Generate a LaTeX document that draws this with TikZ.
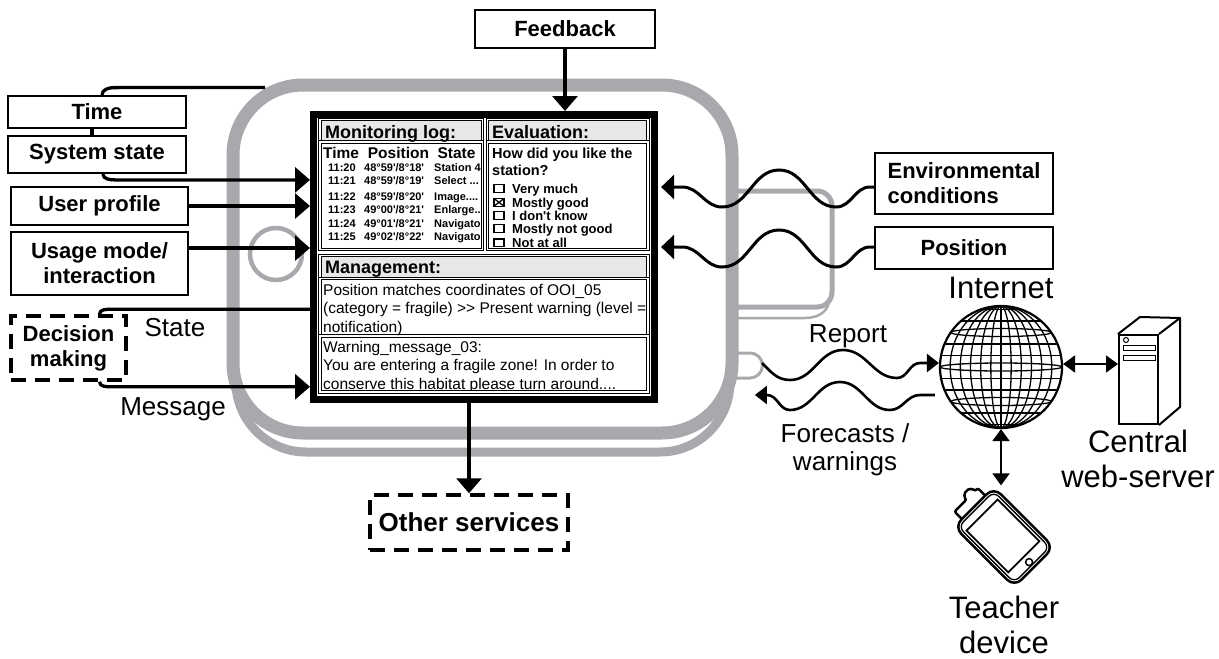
\documentclass[tikz,border=0pt]{standalone}
\usepackage{fontspec}
\setmainfont{Liberation Sans}[Ligatures=TeXOff]
\usetikzlibrary{arrows.meta}
\definecolor{rim}{RGB}{167,169,172}
\definecolor{hdr}{RGB}{230,231,232}
\newcommand{\sz}[2]{\fontsize{#1}{#2}\selectfont}

\begin{document}
\begin{tikzpicture}[x=1pt,y=1pt]

    \tikzset{
        boxstyle/.style={draw,line width=1.8pt,inner sep=0pt,align=center,font=\bfseries\sz{22}{25}},
        dashbox/.style={boxstyle,line width=3.5pt,dash pattern=on 15pt off 9pt},
        conn/.style={line width=3.3pt},
        arr/.style={conn,-{Triangle[length=15pt,width=25pt]}},
        wave/.style={line width=3pt,-{Triangle[length=13pt,width=24pt]}},
        thinwave/.style={line width=2.6pt,-{Triangle[length=12pt,width=18pt]}},
        twoway/.style={line width=2pt,{Triangle[length=12pt,width=17pt]}-{Triangle[length=12pt,width=17pt]}},
        lbl/.style={inner sep=0pt,align=center,font=\sz{26}{28}},
        biglbl/.style={inner sep=0pt,align=center,font=\sz{31}{35}},
        panel/.style={draw,line width=0.9pt,double,double distance=1.4pt},
        head/.style={inner sep=0pt,anchor=base west,font=\bfseries\sz{18}{20}},
        colhead/.style={inner sep=0pt,anchor=base west,font=\bfseries\sz{15.5}{18}},
        cell/.style={inner sep=0pt,anchor=base west,font=\bfseries\sz{11}{13}},
        item/.style={inner sep=0pt,anchor=base west,font=\bfseries\sz{13}{15}},
        note/.style={inner sep=0pt,anchor=base west,font=\sz{15.5}{18}},
        chk/.style={line width=1.3pt}
    }

    \useasboundingbox (0,0) rectangle (1219,-659);

    % device housing (grey)
    \draw[draw=rim,line width=9pt,rounded corners=70pt] (236,-100) rectangle (730,-452);
    \draw[draw=rim,line width=5pt] (725,-191) -- (817,-191) arc[start angle=90,end angle=0,radius=15]
        -- (832,-292) arc[start angle=0,end angle=-90,radius=15] -- (725,-307);
    \draw[draw=rim,line width=2.5pt] (725,-318) -- (805,-318) to[out=0,in=-100] (829,-302);
    \draw[draw=rim,line width=3pt] (735,-353) -- (750,-353) arc[start angle=90,end angle=-90,radius=12.5] -- (735,-378);
    \draw[draw=rim,line width=13pt,fill=white,rounded corners=70pt] (233,-85) rectangle (732,-433);
    \draw[draw=rim,line width=4.5pt] (276,-254) circle[radius=26];

    \coordinate (rimpt) at (265,-87.5);
    \coordinate (bump) at (762,-363);

    % screen
    \node[draw,line width=7pt,minimum width=341pt,minimum height=285pt,inner sep=0pt] (screen) at (484,-257) {};

    \fill[hdr] (320,-119.5) rectangle (482.5,-142);
    \fill[hdr] (487.5,-119.5) rectangle (648,-142);
    \fill[hdr] (320,-255.5) rectangle (648,-278.5);
    \draw[panel] (320,-119.5) rectangle (482.5,-142);
    \draw[panel] (320,-142) rectangle (482.5,-249.5);
    \draw[panel] (487.5,-119.5) rectangle (648,-142);
    \draw[panel] (487.5,-142) rectangle (648,-249.5);
    \draw[panel] (320,-255.5) rectangle (648,-278.5);
    \draw[panel] (320,-278.5) rectangle (648,-336);
    \draw[panel] (320,-336) rectangle (648,-392);

    \node[head] (loghead) at (325,-138) {Monitoring log:};
    \node[head] (evalhead) at (492,-138) {Evaluation:};
    \node[head] (mgmthead) at (325,-273) {Management:};

    % monitoring log
    \begin{scope}
        \clip (321.5,-143.5) rectangle (481,-248.5);
        \node[colhead] (hTime) at (323,-158) {Time};
        \node[colhead] (hPos) at (367.7,-158) {Position};
        \node[colhead] (hState) at (437.3,-158) {State};
        \foreach \tm/\pos/\st/\yy [count=\i] in {11:20/{48°59'/8°18'}/{Station 4}/171,
            11:21/{48°59'/8°19'}/{Select ...}/184, 11:22/{48°59'/8°20'}/{Image....}/200,
            11:23/{49°00'/8°21'}/{Enlarge...}/213, 11:24/{49°01'/8°21'}/{Navigator}/227,
            11:25/{49°02'/8°22'}/{Navigator}/240}{
            \node[cell] (lt\i) at (328,-\yy) {\tm};
            \node[cell] (lp\i) at (364,-\yy) {\pos};
            \node[cell] (ls\i) at (434,-\yy) {\st};
        }
        \node[cell] (dots1) at (327,-250) {. . . .};
        \node[cell] (dots2) at (365,-250) {. . . .};
        \node[cell] (dots3) at (400,-250) {. . . .};
        \node[cell] (dots4) at (435,-250) {. . . . . .};
    \end{scope}

    % evaluation
    \node[inner sep=0pt,anchor=base west,font=\bfseries\sz{14.5}{17}] (q1) at (492,-158) {How did you like the};
    \node[inner sep=0pt,anchor=base west,font=\bfseries\sz{14.5}{17}] (q2) at (492,-175) {station?};
    \foreach \txt/\yy [count=\i] in {Very much/193,Mostly good/207,I don't know/220,Mostly not good/233,Not at all/247.5}{
        \draw[chk] (494,-\yy+0.8) rectangle (504,-\yy+8.5);
        \node[item] (opt\i) at (512,-\yy) {\txt};
    }
    \draw[chk] (494,-206.2) -- (504,-198.5) (494,-198.5) -- (504,-206.2);

    % management
    \begin{scope}
        \clip (321.5,-280) rectangle (646.5,-390.5);
        \node[note] (m1) at (323,-295) {Position matches coordinates of OOI\_05};
        \node[note] (m2) at (323,-313) {(category = fragile) >> Present warning (level =};
        \node[note] (m3) at (323,-332) {notification)};
        \node[note] (m4) at (323,-352) {Warning\_message\_03:};
        \node[note] (m5) at (323,-370) {You are entering a fragile zone! In order to};
        \node[note] (m6) at (323,-389) {conserve this habitat please turn around....};
    \end{scope}

    % inputs on the left
    \node[boxstyle,minimum width=178pt,minimum height=32pt] (time) at (97,-112) {Time};
    \node[boxstyle,minimum width=178pt,minimum height=37pt] (sysstate) at (97,-154.5) {System state};
    \node[boxstyle,minimum width=177pt,minimum height=38pt] (profile) at (99.5,-206) {User profile};
    \node[boxstyle,minimum width=177pt,minimum height=63pt] (usage) at (99.5,-263.5) {Usage mode/\\interaction};
    \node[dashbox,minimum width=115pt,minimum height=64pt] (decision) at (68.5,-348) {Decision\\making};

    \node[boxstyle,minimum width=180pt,minimum height=38pt] (feedback) at (565,-29) {Feedback};
    \node[dashbox,font=\bfseries\sz{26}{30},minimum width=198pt,minimum height=55pt] (others) at (469,-522.5) {Other services};

    \node[boxstyle,align=left,minimum width=178pt,minimum height=61pt] (env) at (964,-183.5) {Environmental\\conditions};
    \node[boxstyle,minimum width=178pt,minimum height=42pt] (position) at (964,-248) {Position};

    \node[lbl,anchor=base] (statelbl) at (175,-336) {State};
    \node[lbl,anchor=base] (msglbl) at (173,-415) {Message};

    \draw[conn] ([xshift=5pt]time.north) to[out=90,in=180] ++(12,7.5) -- (rimpt);
    \draw[conn] ([xshift=-5pt]time.south) -- ([xshift=-5pt]sysstate.north);
    \draw[arr] ([xshift=6pt]sysstate.south) to[out=-90,in=180] ++(12,-6) -- (screen.west |- 0,-179.9);
    \draw[arr] (profile.east) -- (screen.west |- profile.east);
    \draw[arr] ([yshift=15.5pt]usage.east) -- (screen.west |- 0,-248);
    \draw[conn] ([xshift=31pt]decision.north) to[out=90,in=180] ++(12,5) -- (screen.west |- 0,-309.25);
    \draw[arr] ([xshift=31pt]decision.south) to[out=-90,in=180] ++(12,-5) -- (screen.west |- 0,-386.75);
    \draw[arr] (feedback.south) -- (feedback.south |- screen.north);
    \draw[arr] (screen.south -| others.north) -- (others.north);

    % sensor input (waves)
    \draw[wave] ([yshift=-3.5pt]env.west) -- ++(-4,0) to[out=180,in=0] ++(-34,-20) to[out=180,in=0] ++(-57,37)
        to[out=180,in=0] ++(-57,-37) to[out=180,in=0] ++(-40,20) -- ++(-21,0);
    \draw[wave] ([yshift=1pt]position.west) -- ++(-4,0) to[out=180,in=0] ++(-34,-20) to[out=180,in=0] ++(-57,37)
        to[out=180,in=0] ++(-57,-37) to[out=180,in=0] ++(-40,20) -- ++(-21,0);

    % internet
    \node[circle,draw,line width=2.2pt,minimum size=122pt,inner sep=0pt] (internet) at (1001,-367) {};
    \begin{scope}[line width=1.3pt]
        \clip (1001,-367) circle[radius=61];
        \foreach \k in {1,...,5}
            \draw (1001,-367) ellipse[x radius={61*\k/6},y radius=61];
        \draw (1001,-306) -- (1001,-428);
        \foreach \k in {-5,-4,-2,-1,1,2,4,5}
            \draw (940,-367+\k*11.5) -- (1062,-367+\k*11.5);
        \draw (1001,-367) ellipse[x radius=61,y radius=4];
        \draw (1001,-332.5) ellipse[x radius=50.3,y radius=4];
        \draw (1001,-401.5) ellipse[x radius=50.3,y radius=4];
    \end{scope}
    \node[biglbl,anchor=base] (netlbl) at (1001,-298) {Internet};

    % web server
    \node[draw,line width=2pt,minimum width=39pt,minimum height=89pt,inner sep=0pt] (server) at (1138.5,-379.5) {};
    \draw[line width=2pt,line join=round] (server.north west) -- ++(22,17) -- (1180,-318) -- (1180,-407) -- (server.south east);
    \draw[line width=2pt] (server.north east) -- (1180,-318);
    \draw[line width=1pt] (1126,-340) circle[radius=2.5];
    \draw[line width=1pt] (1123,-345) rectangle (1155,-350);
    \draw[line width=1pt] (1123,-355) rectangle (1155,-360);
    % base of a two-line node sits on its last line
    \node[biglbl,anchor=base] (serverlbl) at (1138,-487) {Central\\web-server};

    % teacher device
    \node[draw,line width=2.5pt,rounded corners=10pt,minimum width=56pt,minimum height=85pt,rotate=45] (teacher) at (1004,-537) {};
    \begin{scope}[shift={(1004,-537)},rotate=45]
        \draw[line width=1.3pt,rounded corners=7pt] (-25,-39.5) rectangle (25,39.5);
        \draw[line width=1.8pt] (-22,-28) rectangle (22,31);
        \draw[line width=1.5pt] (0,-35.5) circle[radius=3.5];
        \draw[line width=2.5pt,rounded corners=2pt] (-17,43.5) -- (-17,53) -- (0,53) to[out=90,in=180] (6,59)
            to[out=0,in=90] (12,53) -- (16,53) -- (16,43.5);
    \end{scope}
    \node[biglbl,anchor=base] (teacherlbl) at (1004,-653) {Teacher\\device};

    % links
    \draw[thinwave] (bump) to[out=-45,in=180] ++(28,-17) to[out=0,in=180] ++(53,30) to[out=0,in=180] ++(54,-28)
        to[out=0,in=180] ++(23,15) -- (internet.west |- bump);
    \draw[thinwave] ([xshift=-4pt,yshift=-28pt]internet.west) -- ++(-15,0) to[out=180,in=0] ++(-30,-15)
        to[out=180,in=0] ++(-50,28) to[out=180,in=0] ++(-50,-28) to[out=180,in=0] ++(-23,15) -- ++(-12,0);
    \node[lbl,anchor=base] (replbl) at (848,-342) {Report};
    \node[lbl,anchor=base] (fclbl) at (845,-470) {Forecasts /\\warnings};

    \draw[twoway] ([yshift=3pt]internet.east) -- ([yshift=3pt]internet.east -| server.west);
    \draw[twoway] (internet.south) -- (internet.south |- teacher.north east);

\end{tikzpicture}
\end{document}
